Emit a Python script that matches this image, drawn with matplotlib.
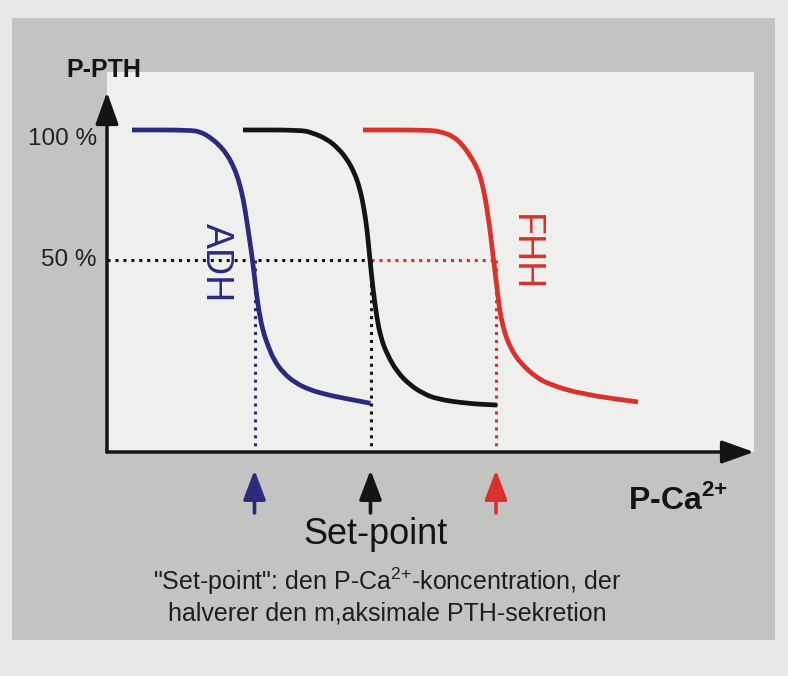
import matplotlib
matplotlib.use("Agg")
import matplotlib.pyplot as plt
from matplotlib.patches import Rectangle, PathPatch
from matplotlib.path import Path

plt.rcParams['font.family'] = ['Liberation Sans', 'DejaVu Sans']
plt.rcParams['mathtext.fontset'] = 'custom'
plt.rcParams['mathtext.rm'] = 'Liberation Sans'
plt.rcParams['mathtext.bf'] = 'Liberation Sans:bold'

# curves: P-Ca (arbitrary units) vs P-PTH (%)
adh_x = [0.50, 1.66, 1.88, 2.06, 2.24, 2.40, 2.52, 2.62, 2.70, 2.76, 2.86, 2.91,
         2.97, 3.04, 3.12, 3.22, 3.34, 3.52, 3.76, 4.06, 4.40, 4.72, 5.27]
adh_y = [100, 100, 99.2, 97.2, 94.3, 90.6, 86.4, 81.5, 75.6, 69.7, 56.7, 50,
         40, 30, 22.6, 17.0, 11.5, 6.7, 2.8, 0, -1.8, -3.1, -5.1]

normal_x = [2.72, 3.86, 4.10, 4.40, 4.62, 4.80, 4.95, 5.06, 5.14, 5.20, 5.26, 5.32,
            5.40, 5.48, 5.60, 5.80, 6.06, 6.32, 6.60, 7.20, 7.80]
normal_y = [100, 100, 99.0, 96.5, 93.0, 88.8, 83.5, 77.3, 69.8, 61.9, 50, 38.8,
            27.3, 20.0, 13.8, 7.0, 1.9, -1.3, -3.5, -5.2, -5.8]

fhh_x = [5.12, 6.46, 6.70, 6.92, 7.10, 7.26, 7.40, 7.50, 7.62, 7.72, 7.80, 7.86,
         7.94, 8.02, 8.16, 8.32, 8.56, 8.86, 9.52, 10.62]
fhh_y = [100, 100, 99.2, 97.6, 94.5, 90.2, 85.5, 80.2, 67.8, 51.9, 39.2, 29.6,
         23.0, 18.4, 13.2, 9.5, 5.2, 2.0, -1.7, -4.6]

set_points = [2.95, 5.27, 7.78]   # ADH, normal, FHH
half_level = 50
tick_levels = [100, 50]
tick_labels = ['100 %', '50 %']

BLUE = '#2b2a7e'
BLACK = '#141414'
RED = '#d9312c'


def smooth_curve(ax, xs, ys, color, lw):
    # quadratic bezier through the midpoints, the read points act as control points
    pts = list(zip(xs, ys))
    verts = [pts[0]]
    codes = [Path.MOVETO]
    for i in range(1, len(pts) - 1):
        mid = ((pts[i][0] + pts[i + 1][0]) / 2, (pts[i][1] + pts[i + 1][1]) / 2)
        if i == 1:
            m0 = ((pts[0][0] + pts[1][0]) / 2, (pts[0][1] + pts[1][1]) / 2)
            verts.append(m0)
            codes.append(Path.LINETO)
        verts += [pts[i], mid]
        codes += [Path.CURVE3, Path.CURVE3]
    verts.append(pts[-1])
    codes.append(Path.LINETO)
    ax.add_patch(PathPatch(Path(verts, codes), fill=False, edgecolor=color,
                           lw=lw, capstyle='butt', joinstyle='round', zorder=3))


fig = plt.figure(figsize=(7.88, 6.76), dpi=100)
fig.patch.set_facecolor('#e8e8e6')
fig.patches.append(Rectangle((12 / 788, 1 - 640 / 676), 763 / 788, 622 / 676,
                             transform=fig.transFigure, facecolor='#c3c3c1',
                             edgecolor='none', zorder=-5))

ax = fig.add_axes([107 / 788, 1 - 452 / 676, 647 / 788, 380 / 676])
ax.set_facecolor('#efefed')
y0, y1 = -23.85, 122.3
ax.set_xlim(0, 12.94)
ax.set_ylim(y0, y1)
for s in ax.spines.values():
    s.set_visible(False)
ax.set_xticks([])
ax.set_yticks([])

# dotted guides at 50 %
dot = dict(ls=(0, (1, 1.6)), lw=2.2, zorder=2)
ax.plot([0, set_points[1]], [half_level, half_level], color=BLACK, **dot)
ax.plot([set_points[1], set_points[2]], [half_level, half_level], color=RED, **dot)
for sp, c in zip(set_points, [BLUE, BLACK, RED]):
    ax.plot([sp, sp], [half_level, y0], color=c, **dot)

# curves
lw = 3.4
smooth_curve(ax, adh_x, adh_y, BLUE, lw)
smooth_curve(ax, normal_x, normal_y, BLACK, lw)
smooth_curve(ax, fhh_x, fhh_y, RED, lw)

lab_font = dict(family='Liberation Sans', fontsize=27)
ax.text(2.18, 49, 'ADH', color=BLUE, rotation=-90, ha='center', va='center', **lab_font)
ax.text(8.36, 53, 'FHH', color=RED, rotation=-90, ha='center', va='center', **lab_font)

# axes with arrow heads
axis_arrow = dict(arrowstyle='-|>,head_length=1.4,head_width=0.5', lw=2.5,
                  color=BLACK, mutation_scale=14, shrinkA=0, shrinkB=0)
ax.annotate('', xy=(12.94, y0), xytext=(0, y0), arrowprops=axis_arrow,
            annotation_clip=False, zorder=5)
ax.annotate('', xy=(0, 114.6), xytext=(0, y0), arrowprops=axis_arrow,
            annotation_clip=False, zorder=5)

# set-point arrows
for sp, c in zip(set_points, [BLUE, BLACK, RED]):
    ax.annotate('', xy=(sp, -30.8), xytext=(sp, -47.3),
                arrowprops=dict(arrowstyle='-|>,head_length=1.0,head_width=0.38',
                                lw=2.6, color=c, mutation_scale=18,
                                shrinkA=0, shrinkB=0),
                annotation_clip=False)

for lev, lab in zip(tick_levels, tick_labels):
    ax.text(-0.2, lev - (3.5 if lev == 100 else 0), lab, ha='right', va='center',
            fontsize=17.5, color='#222222', clip_on=False)

ax.text(-0.06, 123, 'P-PTH', ha='center', va='center', fontsize=18,
        fontweight='bold', color=BLACK, clip_on=False)
ax.text(10.42, -42.3, r'P-Ca$^{\mathbf{2{+}}}$', ha='left', va='center', fontsize=23,
        fontweight='bold', color=BLACK, clip_on=False)
ax.text(5.38, -55.4, 'Set-point', ha='center', va='center', fontsize=26,
        color=BLACK, clip_on=False)
ax.text(5.6, -73.5, r'"Set-point": den P-Ca$^{2{+}}$-koncentration, der', ha='center',
        va='center', fontsize=18, color='#1e1e1e', clip_on=False)
ax.text(5.6, -86, 'halverer den m,aksimale PTH-sekretion', ha='center',
        va='center', fontsize=18, color='#1e1e1e', clip_on=False)

fig.savefig('out.png', dpi=100, facecolor=fig.get_facecolor())
